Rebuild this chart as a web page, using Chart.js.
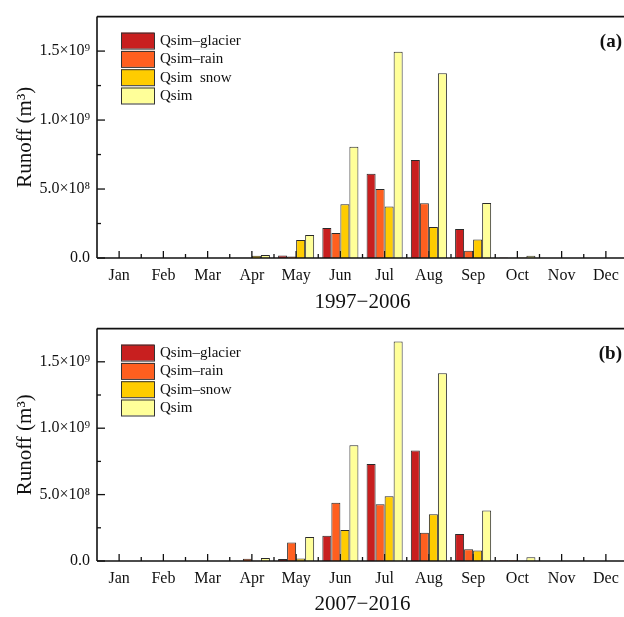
<!DOCTYPE html>
<html><head><meta charset="utf-8">
<script src="https://cdn.jsdelivr.net/npm/chart.js@4"></script>
<style>
html,body{margin:0;padding:0;background:#fff;overflow:hidden;width:624px;height:617px;}
#c1{position:absolute;left:0;top:0;}
#c2{position:absolute;left:0;top:312px;}
</style></head><body>
<canvas id="c1" width="630" height="316"></canvas>
<canvas id="c2" width="630" height="305"></canvas>
<script>
const months = ['Jan','Feb','Mar','Apr','May','Jun','Jul','Aug','Sep','Oct','Nov','Dec'];

// Panel (a) 1997-2006
const glacierA = [0,0,0,1e6,1.9e7,2.17e8,6.1e8,7.1e8,2.1e8,4e6,0,0];
const rainA    = [0,0,0,1e6,1.0e7,1.81e8,5.0e8,3.96e8,5.3e7,1e6,0,0];
const snowA    = [0,0,0,1.7e7,1.31e8,3.9e8,3.74e8,2.24e8,1.34e8,3e6,0,0];
const qsimA    = [0,0,0,2.1e7,1.67e8,8.07e8,1.496e9,1.34e9,3.98e8,1.7e7,0,0];

// Panel (b) 2007-2016
const glacierB = [0,0,0,1e6,1.5e7,1.9e8,7.3e8,8.33e8,2.04e8,6e6,0,0];
const rainB    = [0,0,0,1.7e7,1.39e8,4.38e8,4.27e8,2.13e8,8.9e7,6e6,0,0];
const snowB    = [0,0,0,1e6,1.9e7,2.33e8,4.88e8,3.52e8,7.9e7,1e6,0,0];
const qsimB    = [0,0,0,2.2e7,1.8e8,8.72e8,1.652e9,1.413e9,3.8e8,2.9e7,0,0];

const seriesLabelsA = ['Qsim–glacier','Qsim–rain','Qsim  snow','Qsim'];
const seriesLabelsB = ['Qsim–glacier','Qsim–rain','Qsim–snow','Qsim'];
const periodA = '1997−2006';
const periodB = '2007−2016';
const panelTags = ['(a)','(b)'];
const yTitle = 'Runoff (m³)';
const yTickValues = [0, 5e8, 1e9, 1.5e9];
const yTickLabels = ['0.0','5.0×10⁸','1.0×10⁹','1.5×10⁹'];
const yMax = 1.75e9;
const yStep = 2.5e8;

const colors = ['#C81F1F','#FF5F1F','#FFCC00','#FFFF99'];
const FONT = "'Liberation Serif', 'Times New Roman', serif";

function line(ctx,x1,y1,x2,y2){ctx.beginPath();ctx.moveTo(x1,y1);ctx.lineTo(x2,y2);ctx.stroke();}

const ticksPlugin = {
  id:'inTicks',
  beforeDatasetsDraw(chart){
    const {ctx, chartArea:a, scales:{x,y}} = chart;
    ctx.save();
    ctx.strokeStyle='#111'; ctx.lineWidth=1.3;
    y.ticks.forEach(t=>{
      if (t.value >= yMax - 1) return;
      const py = y.getPixelForValue(t.value);
      const major = yTickValues.some(v=>Math.abs(v-t.value)<1);
      line(ctx, a.left, py, a.left + (major?8:4), py);
    });
    const n = x.ticks.length;
    for (let i=0;i<n;i++){
      const px = x.getPixelForValue(i);
      line(ctx, px, a.bottom, px, a.bottom-7);
      if (i<n-1){
        const mx = (px + x.getPixelForValue(i+1))/2;
        line(ctx, mx, a.bottom, mx, a.bottom-4);
      }
    }
    ctx.restore();
  },
  afterDatasetsDraw(chart){
    const {ctx, chartArea:a} = chart;
    ctx.save();
    ctx.strokeStyle='#111'; ctx.lineWidth=1.6;
    line(ctx, a.left, a.top, a.right+2, a.top);
    line(ctx, a.left, a.top, a.left, a.bottom);
    line(ctx, a.left, a.bottom, a.right+2, a.bottom);
    // legend
    const ds = chart.data.datasets;
    ctx.font = '15px ' + FONT;
    ctx.textBaseline = 'middle';
    ctx.textAlign = 'left';
    ds.forEach((d,i)=>{
      const bx = a.left + 24, by = a.top + 16 + i*18.3;
      ctx.fillStyle = d.backgroundColor;
      ctx.fillRect(bx, by, 33, 16);
      ctx.lineWidth = 1; ctx.strokeStyle = '#333';
      ctx.strokeRect(bx+0.5, by+0.5, 33, 16);
      ctx.fillStyle = '#111';
      ctx.fillText(d.label, bx + 39, by + 8.5);
    });
    // panel tag
    const tag = chart.options.plugins.inTicks.tag;
    ctx.font = 'bold 19px ' + FONT;
    ctx.textAlign = 'right';
    ctx.fillStyle = '#111';
    ctx.fillText(tag, 622, a.top + 25);
    ctx.restore();
  }
};

function makeChart(id, series, labels, period, tag, padTop, xHeight, titlePad){
  const datasets = series.map((s,i)=>({
    label: labels[i], data: s, backgroundColor: colors[i],
    borderColor: '#2a2a2a', borderWidth: 1,
    categoryPercentage: 0.815, barPercentage: 1.0
  }));
  return new Chart(document.getElementById(id), {
    type:'bar',
    data:{labels: months, datasets},
    options:{
      responsive:false, animation:false, devicePixelRatio:1,
      datasets:{bar:{categoryPercentage:0.815, barPercentage:1.0}},
      layout:{padding:{top:padTop, right:2, left:0, bottom:0}},
      plugins:{legend:{display:false}, tooltip:{enabled:false}, inTicks:{tag}},
      scales:{
        x:{
          grid:{display:false, drawTicks:false}, border:{display:false},
          ticks:{color:'#111', font:{family:FONT, size:16}, padding:8, maxRotation:0, autoSkip:false},
          title:{display:true, text: period, color:'#111', font:{family:FONT, size:21}, padding:{top:0,bottom:titlePad}},
          afterFit(s){ s.height = xHeight; }
        },
        y:{
          min:0, max:yMax,
          grid:{display:false, drawTicks:false}, border:{display:false},
          ticks:{stepSize:yStep, color:'#111', font:{family:FONT, size:16}, padding:7,
            callback(v){ const k = yTickValues.findIndex(t=>Math.abs(t-v)<1); return k>=0 ? yTickLabels[k] : ''; }},
          title:{display:true, text: yTitle, color:'#111', font:{family:FONT, size:21}, padding:{top:13,bottom:0}},
          afterFit(s){ s.width = 97; }
        }
      }
    },
    plugins:[ticksPlugin]
  });
}

makeChart('c1', [glacierA, rainA, snowA, qsimA], seriesLabelsA, periodA, panelTags[0], 13, 58, 1.4);
makeChart('c2', [glacierB, rainB, snowB, qsimB], seriesLabelsB, periodB, panelTags[1], 5, 56, 0);
</script>
</body></html>
